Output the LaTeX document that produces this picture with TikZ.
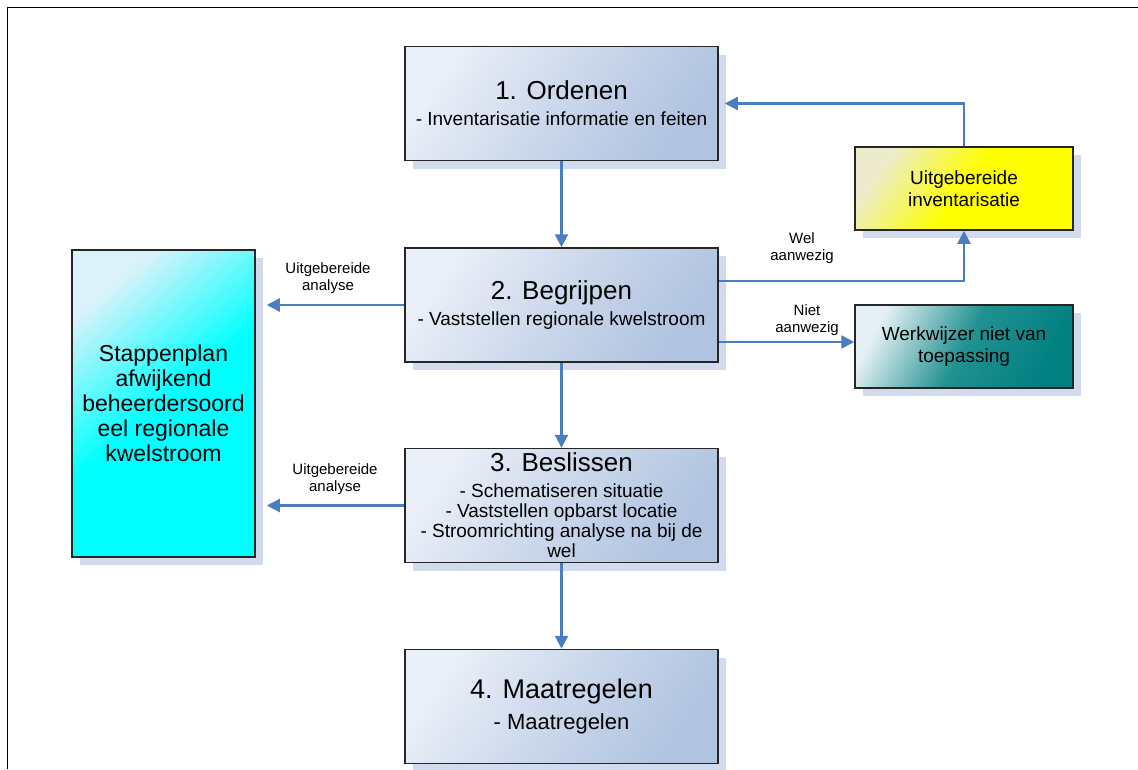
\documentclass[tikz,border=0pt]{standalone}
\usepackage{fontspec}
\setmainfont{Liberation Sans}
\usetikzlibrary{arrows.meta,shadows}
\definecolor{arr}{RGB}{74,126,193}
\definecolor{shd}{RGB}{210,218,237}
\definecolor{bl1}{RGB}{234,239,248}
\definecolor{bl2}{RGB}{176,195,224}
\definecolor{cy1}{RGB}{220,242,250}
\definecolor{cy2}{RGB}{0,255,255}
\definecolor{ye1}{RGB}{236,236,205}
\definecolor{ye2}{RGB}{255,255,0}
\definecolor{te1}{RGB}{228,240,244}
\definecolor{te2}{RGB}{0,128,128}
\newcommand{\Ttl}{\fontsize{26}{28}\selectfont}
\tikzset{
  shbox/.style={draw=black!85, line width=1.5pt, align=center, inner sep=0pt,
    drop shadow={shadow xshift=8pt, shadow yshift=-8pt, fill=shd, opacity=1}},
  stepbox/.style={shbox, minimum width=313pt, minimum height=114pt,
    top color=bl1, bottom color=bl2, middle color=bl1!45!bl2, shading angle=55,
    font=\fontsize{19}{20}\selectfont},
  sidebox/.style={shbox, minimum width=218pt, minimum height=83pt,
    font=\fontsize{19}{22}\selectfont},
  lbl/.style={align=center, font=\fontsize{15}{17}\selectfont, inner sep=0pt},
  arrow/.style={draw=arr, line width=2.3pt, -{Triangle[length=13pt,width=13pt]}}
}
\begin{document}
\begin{tikzpicture}[x=1pt,y=-1pt]
\useasboundingbox (0,0) rectangle (1138,769);
\draw[line width=1pt] (7,769) -- (7,7) -- (1138,7);

\node[stepbox] (b1) at (561.5,103.5) {{\Ttl 1. Ordenen}\\[6pt]- Inventarisatie informatie en feiten};
\node[stepbox] (b2) at (561.5,305) {{\Ttl 2. Begrijpen}\\[6pt]- Vaststellen regionale kwelstroom};
\node[stepbox] (b3) at (561.5,505.5) {{\Ttl 3. Beslissen}\\[6pt]- Schematiseren situatie\\- Vaststellen opbarst locatie\\- Stroomrichting analyse na bij de\\wel};
\node[stepbox] (b4) at (561.5,706.5) {{\fontsize{27}{28}\selectfont 4. Maatregelen}\\[8pt]{\fontsize{22}{24}\selectfont - Maatregelen}};

\node[shbox, minimum width=183pt, minimum height=307pt, top color=cy1, bottom color=cy2, middle color=cy2, shading angle=40,
  font=\fontsize{23}{25}\selectfont] (st) at (163.5,403.5) {Stappenplan\\afwijkend\\beheerdersoord\\eel regionale\\kwelstroom};

\node[sidebox, top color=ye1, bottom color=ye2, middle color=ye2, shading angle=55] (ye) at (964,188.5) {Uitgebereide\\inventarisatie};
\node[sidebox, top color=te1, bottom color=te2, middle color=te2!85!te1, shading angle=62] (te) at (964,346.5) {Werkwijzer niet van\\toepassing};

\node[lbl] (l1) at (328,278) {Uitgebereide\\analyse};
\node[lbl] (l2) at (335,479) {Uitgebereide\\analyse};
\node[lbl] (l3) at (802,248) {Wel\\aanwezig};
\node[lbl] (l4) at (807,320) {Niet\\aanwezig};

\draw[arrow] (b1.south) -- (b2.north);
\draw[arrow] (b2.south) -- (b3.north);
\draw[arrow] (b3.south) -- (b4.north);
\draw[arrow, shorten >=11pt] (b2.west) -- (b2.west -| st.east);
\draw[arrow, shorten >=11pt] (b3.west) -- (b3.west -| st.east);
\draw[arrow] ([yshift=24pt]b2.east) -| (ye.south);
\draw[arrow] ([yshift=-37pt]b2.east) -- ([yshift=-37pt]b2.east -| te.west);
\draw[arrow, shorten >=6pt] (ye.north) |- (b1.east);
\end{tikzpicture}
\end{document}
